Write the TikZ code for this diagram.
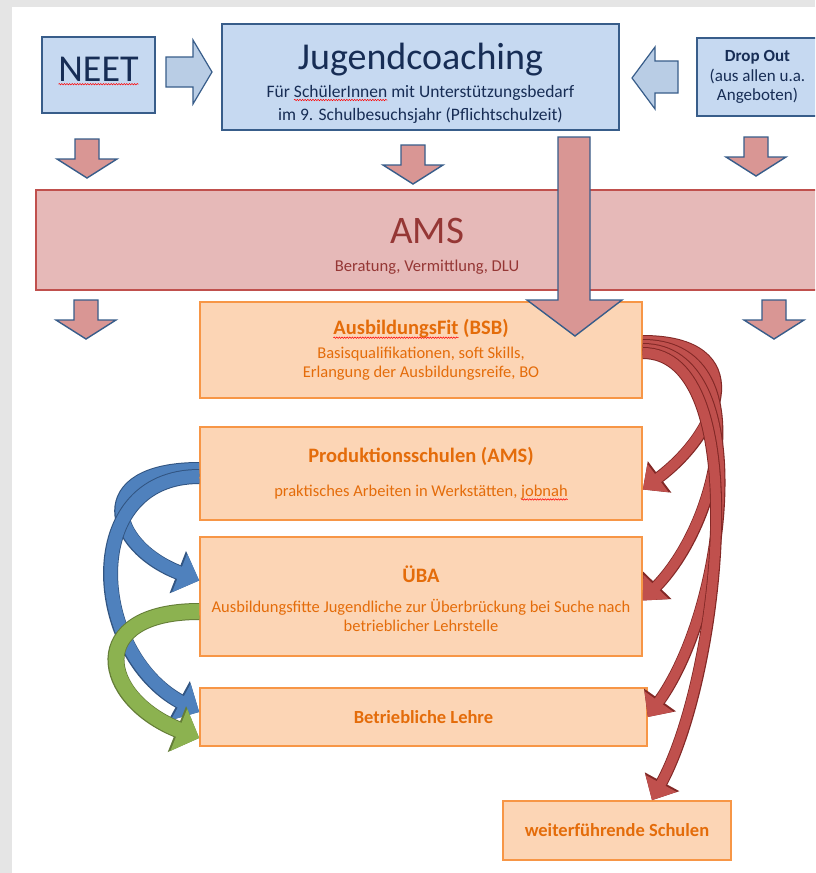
\documentclass[tikz,border=0pt]{standalone}
\usepackage{fontspec}
\setmainfont{Carlito}
\usetikzlibrary{arrows.meta,decorations.pathmorphing}

\definecolor{bgrey}{RGB}{229,229,229}
\definecolor{boxblue}{RGB}{198,217,241}
\definecolor{lineblue}{RGB}{56,93,138}
\definecolor{arrblue}{RGB}{185,205,229}
\definecolor{textnavy}{RGB}{23,45,85}
\definecolor{arrpink}{RGB}{217,150,148}
\definecolor{amsfill}{RGB}{230,185,184}
\definecolor{amsline}{RGB}{192,80,77}
\definecolor{amstext}{RGB}{149,55,53}
\definecolor{orfill}{RGB}{252,213,181}
\definecolor{orline}{RGB}{247,150,70}
\definecolor{ortext}{RGB}{228,108,10}
\definecolor{redfill}{RGB}{192,80,77}
\definecolor{redline}{RGB}{130,40,38}
\definecolor{bluefill}{RGB}{79,129,189}
\definecolor{blueline}{RGB}{50,85,130}
\definecolor{greenfill}{RGB}{140,178,80}
\definecolor{greenline}{RGB}{100,125,55}

% red wavy spell-check line under a word
\newlength{\spellwd}
\newcommand{\spell}[1]{\settowidth{\spellwd}{#1}%
  \rlap{\tikz[overlay,baseline=0pt]\draw[red, line width=0.5pt, decorate,
    decoration={snake, amplitude=0.7pt, segment length=2.6pt}] (0pt,-3pt) -- (\spellwd,-3pt);}#1}

\begin{document}
\begin{tikzpicture}[x=1pt, y=-1pt,
  bbox/.style={draw=lineblue, fill=boxblue, line width=1.6pt, align=center, text=textnavy},
  obox/.style={draw=orline, fill=orfill, line width=1.6pt, align=center, text=ortext,
    font=\fontsize{16.5}{19.5}\selectfont},
  blockarr/.style={draw=lineblue, fill=arrblue, line width=1.2pt},
  downarr/.style={draw=lineblue, fill=arrpink, line width=1.4pt},
  redarr/.style={draw=redfill, line width=10pt, -{Triangle[width=34pt,length=19pt]},
    preaction={draw=redline, line width=12pt, -{Triangle[width=38pt,length=21pt]}}},
  bluearr/.style={draw=bluefill, line width=13pt, -{Triangle[width=40pt,length=21pt]},
    preaction={draw=blueline, line width=15pt, -{Triangle[width=44pt,length=23pt]}}},
  greenarr/.style={draw=greenfill, line width=15pt, -{Triangle[width=44pt,length=22pt]},
    preaction={draw=greenline, line width=17pt, -{Triangle[width=48pt,length=24pt]}}}]
\useasboundingbox (0,0) rectangle (815,873);
\clip (0,0) rectangle (815,873);
\fill[bgrey] (0,0) rectangle (815,873);
\fill[white] (12,7) rectangle (815,873);

% top row
\node[bbox, minimum width=113pt, minimum height=76pt] (neet) at (98.5,75)
  {\fontsize{38}{40}\selectfont \spell{NEET}\rule[-12pt]{0pt}{12pt}};
\node[bbox, minimum width=397pt, minimum height=106pt, font=\fontsize{17.5}{23}\selectfont] (coach) at (420.5,77)
  {\rule{0pt}{38pt}{\fontsize{38}{40}\selectfont Jugendcoaching}\\[5pt]
   Für \spell{SchülerInnen} mit Unterstützungsbedarf\\
   im 9. Schulbesuchsjahr (Pflichtschulzeit)};
\node[bbox, minimum width=121pt, minimum height=78pt, font=\fontsize{17}{19.5}\selectfont] (drop) at (757.5,77)
  {\textbf{Drop Out}\\(aus allen u.a.\\Angeboten)};
\draw[blockarr] (166,57) -- (193,57) -- (193,40) -- (212,72) -- (193,104) -- (193,87) -- (166,87) -- cycle;
\draw[blockarr] (678,61) -- (655,61) -- (655,47) -- (632,78) -- (655,109) -- (655,93) -- (678,93) -- cycle;

% AMS
\node[draw=amsline, fill=amsfill, line width=1.6pt, align=center, text=amstext,
  minimum width=782pt, minimum height=100pt, font=\fontsize{16.6}{18}\selectfont] (ams) at (427,240)
  {\rule{0pt}{38pt}{\fontsize{39}{40}\selectfont AMS}\\[10pt] Beratung, Vermittlung, DLU};

% small down arrows
\foreach \cx/\ty in {87/139, 413/145, 756/137, 86/300, 774/300}
  \draw[downarr] (\cx-12,\ty) -- ++(24,0) -- ++(0,20) -- ++(18,0) -- (\cx,\ty+39)
    -- (\cx-30,\ty+20) -- ++(18,0) -- cycle;

% offers
\node[obox, minimum width=442pt, minimum height=96pt] (fit) at (421,350)
  {{\bfseries\fontsize{20.5}{22}\selectfont \spell{AusbildungsFit} (BSB)}\\[4pt]
   Basisqualifikationen, soft Skills,\\ Erlangung der Ausbildungsreife, BO};
\node[obox, minimum width=442pt, minimum height=93pt] (prod) at (421,473.5)
  {{\bfseries\fontsize{20.5}{22}\selectfont Produktionsschulen (AMS)}\\[14pt]
   praktisches Arbeiten in Werkstätten, \spell{jobnah}};
\node[obox, minimum width=442pt, minimum height=119pt] (uba) at (421,596.5)
  {\rule{0pt}{22pt}{\bfseries\fontsize{20.5}{22}\selectfont ÜBA}\\[10pt]
   Ausbildungsfitte Jugendliche zur Überbrückung bei Suche nach\\ betrieblicher Lehrstelle};
\node[obox, minimum width=447pt, minimum height=58pt, font=\bfseries\fontsize{18.5}{20}\selectfont] (lehre) at (423.5,717)
  {Betriebliche Lehre};
\node[obox, minimum width=228pt, minimum height=59pt, font=\bfseries\fontsize{18.5}{20}\selectfont] (schulen) at (617,830.5)
  {weiterführende Schulen};

% long arrow from Jugendcoaching
\draw[downarr] (558,137) -- (590,137) -- (590,300) -- (622,300) -- (575,336) -- (527,300) -- (558,300) -- cycle;

% red bundle
\draw[redarr] ([yshift=9pt]fit.east) .. controls +(110,0) and +(80,-60) .. ([yshift=-16pt]prod.east);
\draw[redarr] ([yshift=5pt]fit.east) .. controls +(112,0) and +(82,-85) .. ([yshift=-4pt]uba.east);
\draw[redarr] ([yshift=1pt]fit.east) .. controls +(112,0) and +(82,-115) .. (lehre.east);
\draw[redarr] ([yshift=-3pt]fit.east) .. controls +(112,0) and +(68,-125) .. ([xshift=35pt]schulen.north);

% blue and green
\draw[bluearr] ([yshift=4pt]prod.west) .. controls +(-110,0) and +(-90,-35) .. ([yshift=16pt]uba.west);
\draw[bluearr] ([yshift=-3pt]prod.west) .. controls +(-120,0) and +(-110,-60) .. ([yshift=5pt]lehre.west);
\draw[greenarr] ([yshift=-15pt]uba.west) .. controls +(-115,0) and +(-100,-40) .. ([yshift=-21pt]lehre.west);
\end{tikzpicture}
\end{document}
